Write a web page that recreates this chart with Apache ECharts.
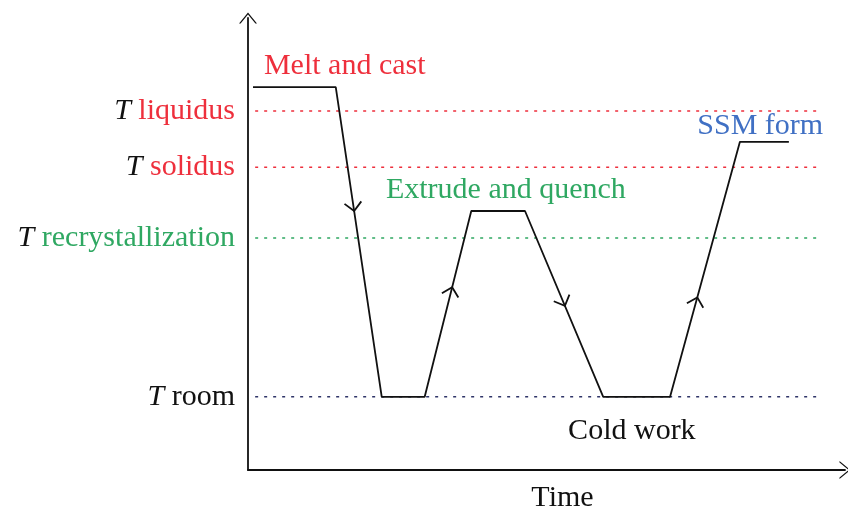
<!DOCTYPE html>
<html>
<head>
<meta charset="utf-8">
<script src="https://cdn.jsdelivr.net/npm/echarts@6/dist/echarts.min.js"></script>
<style>
  html, body { margin: 0; padding: 0; background: #fff; }
  #chart { width: 848px; height: 510px; }
</style>
</head>
<body>
<div id="chart"></div>
<script>
// process path (time, temperature) in arbitrary units
const pathX = [0.84, 14.7, 22.4, 29.6, 37.4, 46.4, 59.5, 70.7, 82.4, 90.6];
const pathY = [84.7, 84.7, 16.2, 16.2, 57.3, 57.3, 16.2, 16.2, 72.6, 72.6];

// arrows: [segment index, fraction along segment]
const arrowAt = [[1, 0.40], [3, 0.59], [5, 0.51], [7, 0.39]];

// reference temperatures
const levelNames = ['liquidus', 'solidus', 'recrystallization', 'room'];
const levelValues = [79.4, 67.0, 51.3, 16.2];
const levelStyles = ['red', 'red', 'green', 'navy'];
const levelX = [1.2, 95.8];

// annotations
const noteText = ['Melt and cast', 'SSM form', 'Extrude and quench', 'Cold work'];
const noteX = [16.2, 85.8, 43.2, 64.3];
const noteY = [89.4, 76.1, 61.9, 8.6];
const noteStyles = ['red', 'blue', 'green', 'dark'];

const colors = {
  red: '#ee2f3c',
  green: '#2fa862',
  blue: '#4070c4',
  navy: '#2f3468',
  dark: '#111111'
};
const FONT = 'Liberation Serif';
const FS = 30;

const chart = echarts.init(document.getElementById('chart'));

const levelSeries = levelValues.map((v, i) => ({
  type: 'line',
  data: levelX.map(x => [x, v]),
  symbol: 'none',
  silent: true,
  lineStyle: { color: colors[levelStyles[i]], width: 1.5, type: [3, 6] },
  z: 1
}));

const arrowData = arrowAt.map(a => {
  const i = a[0];
  return [pathX[i], pathY[i], pathX[i + 1], pathY[i + 1], a[1]];
});

const chevron = 'path://M0,11 L9,0 L18,11 L16.4,11 L9,2 L1.6,11 Z';

const option = {
  animation: false,
  grid: { left: 248, top: 18, right: 3, bottom: 40, outerBoundsMode: 'none', containLabel: false },
  xAxis: {
    type: 'value', min: 0, max: 100,
    name: 'Time', nameLocation: 'middle', nameGap: 13,
    nameTextStyle: { fontFamily: FONT, fontSize: FS, color: '#111', padding: [0, 0, 0, 32] },
    axisLine: { show: true, lineStyle: { color: '#111', width: 1.8 }, symbol: ['none', chevron], symbolSize: [18, 11] },
    axisTick: { show: false }, axisLabel: { show: false }, splitLine: { show: false }
  },
  yAxis: {
    type: 'value', min: 0, max: 100,
    axisLine: { show: true, lineStyle: { color: '#111', width: 1.8 }, symbol: ['none', chevron], symbolSize: [18, 11] },
    axisTick: { show: false }, splitLine: { show: false },
    axisLabel: {
      show: true,
      customValues: levelValues,
      margin: 13,
      fontFamily: FONT, fontSize: FS,
      formatter: v => {
        const i = levelValues.indexOf(v);
        if (i < 0) return '';
        return '{t|T} {' + levelStyles[i] + '|' + levelNames[i] + '}';
      },
      rich: {
        t: { fontFamily: FONT, fontSize: FS, fontStyle: 'italic', color: '#111' },
        red: { fontFamily: FONT, fontSize: FS, color: colors.red },
        green: { fontFamily: FONT, fontSize: FS, color: colors.green },
        navy: { fontFamily: FONT, fontSize: FS, color: '#111' }
      }
    }
  },
  series: levelSeries.concat([
    {
      type: 'line',
      data: pathX.map((x, i) => [x, pathY[i]]),
      symbol: 'none',
      lineStyle: { color: '#111', width: 1.8 },
      z: 3
    },
    {
      type: 'custom',
      data: arrowData,
      z: 4,
      renderItem: (params, api) => {
        const a = api.coord([api.value(0), api.value(1)]);
        const b = api.coord([api.value(2), api.value(3)]);
        const t = api.value(4);
        const tip = [a[0] + (b[0] - a[0]) * t, a[1] + (b[1] - a[1]) * t];
        const len = Math.hypot(b[0] - a[0], b[1] - a[1]);
        const dx = (b[0] - a[0]) / len, dy = (b[1] - a[1]) / len;
        const L = 12, th = 45 * Math.PI / 180;
        const arm = s => [
          tip[0] - L * (dx * Math.cos(th) - s * dy * Math.sin(th)),
          tip[1] - L * (dy * Math.cos(th) + s * dx * Math.sin(th))
        ];
        return {
          type: 'polyline',
          shape: { points: [arm(1), tip, arm(-1)] },
          style: { stroke: '#111', lineWidth: 1.8, fill: null }
        };
      }
    },
    {
      type: 'scatter',
      data: noteX.map((x, i) => ({
        value: [x, noteY[i]],
        label: { color: colors[noteStyles[i]] }
      })),
      symbolSize: 0,
      silent: true,
      itemStyle: { opacity: 1 },
      z: 5,
      label: {
        show: true, position: 'inside',
        fontFamily: FONT, fontSize: FS,
        formatter: p => noteText[p.dataIndex]
      }
    }
  ])
};

chart.setOption(option);
</script>
</body>
</html>
